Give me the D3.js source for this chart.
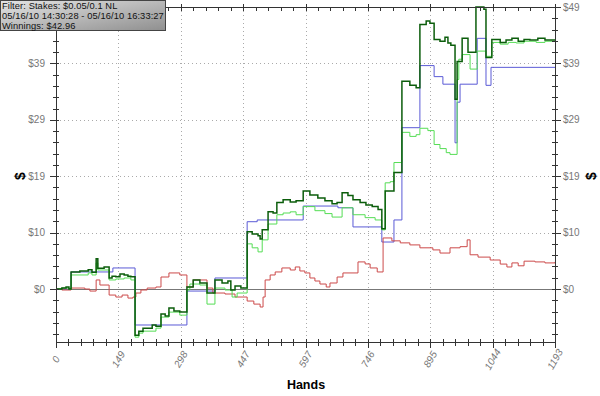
<!DOCTYPE html>
<html>
<head>
<meta charset="utf-8">
<script src="https://cdn.jsdelivr.net/npm/d3@7"></script>
<style>
  body { margin: 0; background: #fff; }
  svg { display: block; }
</style>
</head>
<body>
<div id="chart"></div>
<script>
'use strict'
// [hand, $] step points
var totalWon = [
  [0,0],[14,0.17],[24,0.35],[31,0],[36,2.94],[57,3.1],[77,3.3],[86,2.9],[96,5.2],[100,3.6],[115,3.8],
  [127,1.9],[134,2.2],[143,2.1],[153,2.6],[163,2.4],[172,2.2],[179,2.1],[189,-7.95],[198,-7.26],
  [208,-6.74],[230,-6.22],[239,-6.4],[251,-4.3],[261,-4.67],[270,-3.28],[282,-3.8],[296,-3.98],
  [313,0.35],[328,1.56],[344,1.04],[361,-0.69],[380,1.56],[397,1.04],[411,1.38],[418,-0.17],
  [428,0.52],[442,0.17],[457,9.85],[469,9.5],[483,9.16],[488,8.64],[493,10.2],[507,13.3],[519,13.1],
  [528,14.9],[543,15.4],[560,15.0],[574,15.2],[591,16.9],[607,16.2],[626,15.7],[643,15.2],[660,14.7],
  [672,14.9],[684,16.6],[698,16.1],[710,15.4],[727,14.9],[741,14.5],[756,14.2],[770,13.7],[779,10.4],
  [787,16.9],[808,20.1],[827,35.8],[846,35.1],[861,34.7],[870,45.6],[885,46.2],[894,45.8],[904,43.0],
  [918,42.7],[930,43.4],[937,42.4],[944,42.0],[954,32.7],[959,39.2],[971,43.2],[985,40.8],[1004,48.6],
  [1023,48.2],[1028,39.9],[1042,43.0],[1062,42.5],[1076,42.9],[1090,43.2],[1105,42.7],[1119,43.0],
  [1133,42.9],[1152,43.2],[1169,42.9],[1193,42.96]
]
var showdownWon = [
  [0,0],[14,0.17],[31,0],[36,2.42],[77,2.77],[86,2.42],[96,4.5],[100,3.28],[127,1.56],[143,1.73],
  [163,1.9],[179,1.56],[189,-8.3],[198,-7.6],[208,-7.26],[239,-6.74],[251,-4.84],[270,-3.98],[296,-4.5],
  [313,-0.17],[320,0.86],[344,0.69],[361,-2.6],[380,0.17],[404,-0.17],[421,-1.38],[433,-0.69],
  [457,7.78],[469,7.1],[483,6.4],[493,8.47],[507,11.2],[528,12.8],[543,13.1],[560,13.3],[574,12.8],
  [591,14.2],[619,13.5],[643,13.0],[660,12.4],[684,14.0],[710,12.8],[739,12.3],[763,11.9],[779,10.2],
  [787,18.3],[799,18.5],[808,21.8],[827,27.0],[846,26.3],[861,26.6],[870,27.7],[889,27.3],[904,24.9],
  [918,24.2],[933,23.5],[942,23.2],[959,36.1],[963,39.6],[971,40.4],[990,37.9],[1007,41.0],[1028,40.1],
  [1042,42.5],[1062,42.2],[1081,42.5],[1100,42.4],[1119,42.7],[1148,42.5],[1169,42.7],[1193,42.7]
]
var allInEV = [
  [0,0],[36,2.94],[136,3.63],[189,-6.2],[313,-0.35],[380,1.9],[457,11.6],[481,11.9],[591,14.3],
  [674,14.0],[710,10.7],[779,8.1],[808,11.9],[827,27.8],[870,38.5],[904,36.6],[925,35.3],[954,25.2],
  [959,32.2],[966,35.3],[1007,43.2],[1028,35.1],[1040,38.2],[1193,38.2]
]
var nonShowdown = [
  [0,0],[14,-0.17],[36,0.17],[69,0],[81,-0.35],[96,1.56],[105,0.69],[127,-1.04],[143,-1.38],[158,-1.04],
  [172,-1.56],[184,-1.38],[191,-0.69],[203,-0.17],[218,0.17],[239,0.35],[251,2.07],[270,2.77],[296,2.42],
  [313,0.35],[328,1.56],[361,0.17],[375,-0.69],[404,-0.86],[428,-1.38],[457,-2.07],[473,-2.6],[488,-3.1],
  [495,-1.38],[500,1.56],[512,2.42],[524,2.94],[540,3.63],[560,3.28],[572,3.8],[583,3.11],[595,2.77],
  [607,1.9],[619,1.38],[631,0.86],[646,0.35],[655,1.04],[672,2.07],[686,2.77],[722,4.67],[739,4.32],
  [751,3.63],[768,2.94],[782,8.8],[803,8.3],[823,7.95],[846,7.6],[870,7.1],[901,6.74],[918,6.2],
  [942,7.1],[966,7.3],[983,8.47],[990,5.9],[1009,5.5],[1038,5.0],[1062,4.3],[1078,3.8],[1090,4.5],
  [1105,4.0],[1119,4.8],[1145,4.67],[1169,4.5],[1193,4.67]
]
var xTickLabels = ['0', '149', '298', '447', '597', '746', '895', '1044', '1193']
var yTickLabels = ['$0', '$10', '$19', '$29', '$39', '$49']
var infoLines = [
  'Filter: Stakes: $0.05/0.1 NL',
  '05/16/10 14:30:28 - 05/16/10 16:33:27',
  'Winnings: $42.96'
]

var W = 600, H = 396
var pLeft = 56, pRight = 555, pTop = 7, pBottom = 342
var xMax = 1193, yMax = 48.6, yMin = -9.13

var svg = d3.select('#chart').append('svg').attr('width', W).attr('height', H)

var x = d3.scaleLinear().domain([0, xMax]).range([pLeft, pRight])
var y = d3.scaleLinear().domain([yMin, yMax]).range([pBottom, pTop])

var xStep = xMax / 8, yStep = yMax / 5
var xMajor = d3.range(9).map(i => i * xStep)
var yMajor = d3.range(6).map(i => i * yStep)
var xMinor = d3.range(41).map(i => i * xStep / 5)
var yMinor = []
for (var v = -4; v <= 25; v++) if (v * yStep / 5 >= yMin) yMinor.push(v * yStep / 5)

// grid
var grid = svg.append('g')
grid.selectAll('.gx').data(xMajor.slice(1, 8)).enter().append('line')
  .attr('x1', d => Math.round(x(d)) + 0.5).attr('x2', d => Math.round(x(d)) + 0.5)
  .attr('y1', pTop).attr('y2', pBottom)
  .attr('stroke', '#aaa').attr('stroke-dasharray', '1,3')
grid.selectAll('.gy').data(yMajor.slice(1, 5)).enter().append('line')
  .attr('x1', pLeft).attr('x2', pRight)
  .attr('y1', d => Math.round(y(d)) + 0.5).attr('y2', d => Math.round(y(d)) + 0.5)
  .attr('stroke', '#aaa').attr('stroke-dasharray', '1,3')

// zero line
svg.append('line')
  .attr('x1', pLeft).attr('x2', pRight)
  .attr('y1', Math.round(y(0)) + 0.5).attr('y2', Math.round(y(0)) + 0.5)
  .attr('stroke', '#777').attr('stroke-width', 1)

// series
var line = d3.line().x(d => x(d[0])).y(d => y(d[1])).curve(d3.curveStepAfter)
var series = [
  {data: allInEV, color: '#5a5ad6', w: 1},
  {data: nonShowdown, color: '#cc4a4a', w: 1},
  {data: showdownWon, color: '#55dd55', w: 1},
  {data: totalWon, color: '#0b5d0b', w: 1.5}
]
series.forEach(s => {
  svg.append('path')
    .attr('d', line(s.data))
    .attr('fill', 'none')
    .attr('stroke', s.color)
    .attr('stroke-width', s.w)
})

// axes frame
var ax = svg.append('g').attr('stroke', '#333').attr('stroke-width', 1)
ax.append('line').attr('x1', pLeft + 0.5).attr('x2', pLeft + 0.5).attr('y1', pTop).attr('y2', pBottom + 0.5)
ax.append('line').attr('x1', pRight + 0.5).attr('x2', pRight + 0.5).attr('y1', pTop).attr('y2', pBottom + 0.5)
ax.append('line').attr('x1', pLeft).attr('x2', pRight + 1).attr('y1', pBottom + 0.5).attr('y2', pBottom + 0.5)
ax.append('line').attr('x1', pLeft).attr('x2', pRight + 1).attr('y1', pTop + 0.5).attr('y2', pTop + 0.5)

function isMajor (v, step) {
  var r = v / step
  return Math.abs(r - Math.round(r)) < 1e-6
}
// x ticks, bottom and top
xMinor.forEach(d => {
  var px = Math.round(x(d)) + 0.5
  var maj = isMajor(d, xStep)
  ax.append('line').attr('x1', px).attr('x2', px)
    .attr('y1', pBottom - 3).attr('y2', pBottom + (maj ? 6 : 4))
  ax.append('line').attr('x1', px).attr('x2', px)
    .attr('y1', pTop - (maj ? 3 : 0)).attr('y2', pTop + 4)
})
// y ticks, left and right
yMinor.forEach(d => {
  var py = Math.round(y(d)) + 0.5
  var maj = isMajor(d, yStep)
  ax.append('line').attr('y1', py).attr('y2', py)
    .attr('x1', pLeft - (maj ? 6 : 3)).attr('x2', pLeft + 3)
  ax.append('line').attr('y1', py).attr('y2', py)
    .attr('x1', pRight - 3).attr('x2', pRight + (maj ? 6 : 3))
})

// tick labels (left top label sits under the info box, so it is left out)
var lab = svg.append('g').attr('font-family', 'Arial, "Liberation Sans", sans-serif')
  .attr('font-size', 10).attr('fill', '#777')
yMajor.forEach((d, i) => {
  if (i < yMajor.length - 1) {
    lab.append('text').attr('x', 45).attr('y', y(d) + 3.5)
      .attr('text-anchor', 'end').text(yTickLabels[i])
  }
  lab.append('text').attr('x', 563).attr('y', y(d) + 3.5)
    .attr('text-anchor', 'start').text(yTickLabels[i])
})
xMajor.forEach((d, i) => {
  lab.append('text')
    .attr('transform', `translate(${x(d) + 3},${361}) rotate(-60)`)
    .attr('text-anchor', 'middle').attr('font-style', 'italic')
    .text(xTickLabels[i])
})

// axis titles
var tt = svg.append('g').attr('font-family', 'Arial, "Liberation Sans", sans-serif')
  .attr('font-weight', 'bold').attr('fill', '#000')
tt.append('text').attr('x', 306).attr('y', 389).attr('text-anchor', 'middle')
  .attr('font-size', 12.5).text('Hands')
tt.append('text').attr('transform', 'translate(20,176) rotate(-90)')
  .attr('text-anchor', 'middle').attr('dy', '0.35em').attr('font-size', 14).text('$')
tt.append('text').attr('transform', 'translate(591,176) rotate(-90)')
  .attr('text-anchor', 'middle').attr('dy', '0.35em').attr('font-size', 14).text('$')

// info box
var defs = svg.append('defs')
var grad = defs.append('linearGradient').attr('id', 'boxgrad')
  .attr('x1', 0).attr('y1', 0).attr('x2', 1).attr('y2', 1)
grad.append('stop').attr('offset', '0%').attr('stop-color', '#e4e4e4')
grad.append('stop').attr('offset', '100%').attr('stop-color', '#8f8f8f')
svg.append('rect').attr('x', 0.5).attr('y', 0.5).attr('width', 165).attr('height', 30)
  .attr('fill', 'url(#boxgrad)').attr('stroke', '#444')
svg.append('g').attr('font-family', 'Arial, "Liberation Sans", sans-serif')
  .attr('font-size', 9.3).attr('letter-spacing', 0.1).attr('fill', '#111')
  .selectAll('text').data(infoLines).enter().append('text')
  .attr('x', 2).attr('y', (d, i) => 8.5 + i * 10)
  .text(d => d)
</script>
</body>
</html>
